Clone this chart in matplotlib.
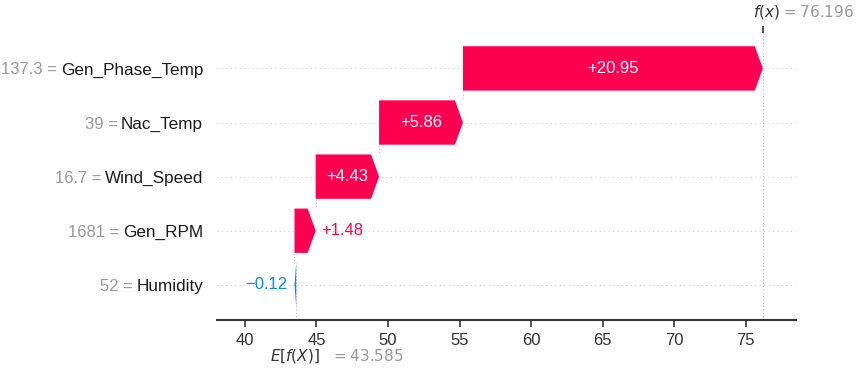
import matplotlib.pyplot as plt
import numpy as np

# SHAP-style waterfall, values
features = ['Gen_Phase_Temp', 'Nac_Temp', 'Wind_Speed', 'Gen_RPM', 'Humidity']
feature_vals = ['137.3', '39', '16.7', '1681', '52']
shap_vals = [20.95, 5.86, 4.43, 1.48, -0.12]
base_value = 43.585
fx_value = 76.196
xticks = [40, 45, 50, 55, 60, 65, 70, 75]

red = '#ff0051'
blue = '#008bfb'
grey = '#999999'
font = 'Liberation Sans'

fig = plt.figure(figsize=(8.58, 3.68), dpi=100)
ax = fig.add_axes([0.2529, 0.1304, 0.6748, 0.7793])
xlim = (38.05, 78.5)
ylim = (-0.65, 4.65)
ax.set_xlim(xlim)
ax.set_ylim(ylim)

n = len(features)
rows = np.arange(n)[::-1]  # top feature on top
# head length ~8 px in data units
px_per_unit = 0.6748 * 858 / (xlim[1] - xlim[0])
head = 8 / px_per_unit
h = 0.41

# cumulative from the bottom (base value) upward
starts = np.zeros(n)
ends = np.zeros(n)
cur = base_value
for i in range(n - 1, -1, -1):
    starts[i] = cur
    cur = cur + shap_vals[i]
    ends[i] = cur

for i in range(n):
    ax.axhline(rows[i], color='#cccccc', lw=0.8, dashes=(1, 3), zorder=-1)

# base line only up to the lowest bar, f(x) line across the whole axes
ax.axvline(base_value, 0, (h - ylim[0]) / (ylim[1] - ylim[0]),
           color='#bbbbbb', lw=0.8, dashes=(1, 2), zorder=-1)
ax.axvline(fx_value, color='#bbbbbb', lw=0.8, dashes=(1, 2), zorder=-1)

for i in range(n):
    s, e, v, y = starts[i], ends[i], shap_vals[i], rows[i]
    d = np.sign(v)
    hl = min(head, abs(v))
    col = red if v > 0 else blue
    xs = [s, e - d * hl, e, e - d * hl, s]
    ys = [y - h, y - h, y, y + h, y + h]
    ax.fill(xs, ys, color=col, lw=0, zorder=3)
    # connector to the next bar below
    if i < n - 1:
        ax.plot([s, s], [y - h, rows[i + 1] + h], color='#bbbbbb', lw=0.8,
                dashes=(1, 2), zorder=-1)
    txt = ('+' if v > 0 else '\u2212') + '%.2f' % abs(v)
    if abs(v) > 3:
        ax.text((s + e) / 2, y, txt, color='white', ha='center', va='center',
                fontsize=12, family=font, zorder=4)
    elif v > 0:
        ax.annotate(txt, (e, y), xytext=(4, 0), textcoords='offset points',
                    color=col, ha='left', va='center', fontsize=12, family=font)
    else:
        ax.annotate(txt, (e, y), xytext=(-5, 0), textcoords='offset points',
                    color=col, ha='right', va='center', fontsize=12, family=font)

ax.set_yticks(rows)
ax.set_yticklabels(features, fontsize=12.3, family=font, color='#1a1a1a')
ax.tick_params(axis='y', length=0, pad=10)
ax.set_xticks(xticks)
ax.set_xticklabels([str(t) for t in xticks], fontsize=12, family=font, color='#333333')
ax.tick_params(axis='x', length=5, width=1.2, color='#333333', pad=4)

for sp in ['top', 'left', 'right']:
    ax.spines[sp].set_visible(False)
ax.spines['bottom'].set_linewidth(1.5)
ax.spines['bottom'].set_color('#333333')

fig.canvas.draw()
for lab, val in zip(ax.get_yticklabels(), feature_vals):
    ax.annotate(val + ' =', xy=(0, 0.5), xycoords=lab, xytext=(-2.5, 0),
                textcoords='offset points', ha='right', va='center',
                fontsize=12, family=font, color=grey)

# E[f(X)] and f(x) markers
ax.annotate('$E[f(X)]$', (base_value, 0), xycoords=('data', 'axes fraction'),
            xytext=(-19, -26), textcoords='offset points', ha='left', va='center',
            fontsize=11, color='#333333', annotation_clip=False)
ax.annotate('$= 43.585$', (base_value, 0), xycoords=('data', 'axes fraction'),
            xytext=(25, -26), textcoords='offset points', ha='left', va='center',
            fontsize=11, color=grey, annotation_clip=False)

ax2 = ax.secondary_xaxis('top')
ax2.set_xticks([fx_value])
ax2.set_xticklabels([''])
ax2.tick_params(length=5, width=1.2, color='#333333')
ax2.spines['top'].set_visible(False)
ax.annotate('$f(x)$', (fx_value, 1), xycoords=('data', 'axes fraction'),
            xytext=(-7, 15), textcoords='offset points', ha='left', va='center',
            fontsize=11, color='#333333', annotation_clip=False)
ax.annotate('$= 76.196$', (fx_value, 1), xycoords=('data', 'axes fraction'),
            xytext=(13, 15), textcoords='offset points', ha='left', va='center',
            fontsize=11, color=grey, annotation_clip=False)

fig.savefig('out.png', dpi=100)
